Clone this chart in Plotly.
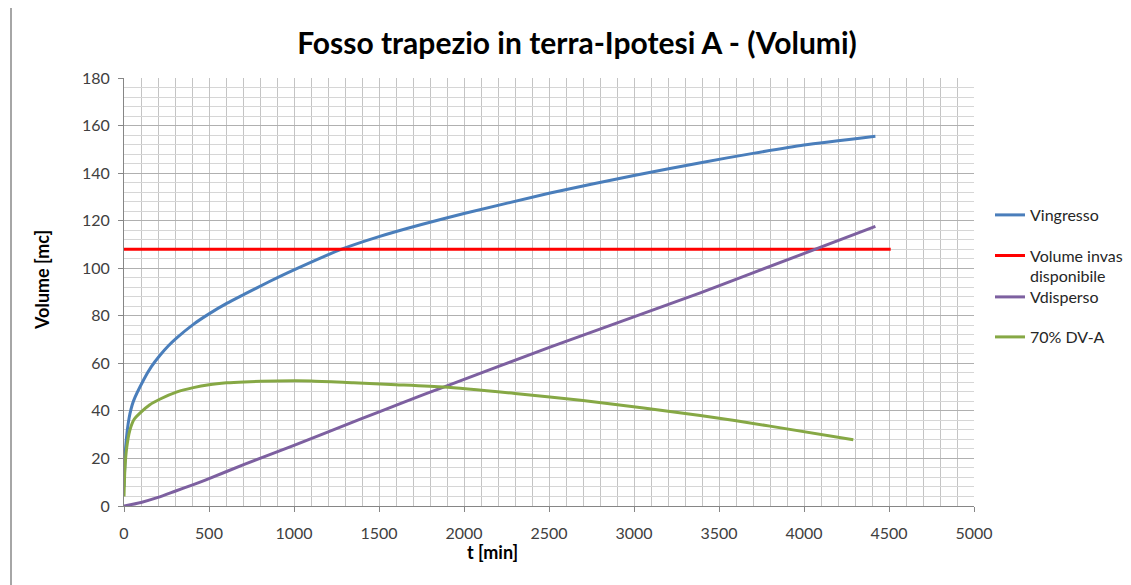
import plotly.graph_objects as go

# ---- data ----
t_ingresso = [0, 10, 30, 55, 115, 160, 213, 260, 312, 408, 500, 604, 706, 850, 1000, 1280, 1500, 1750, 2000, 2500, 3000, 3400, 3700, 4000, 4420]
v_ingresso = [8, 25, 37, 44, 53, 58.5, 63.5, 67.3, 70.8, 76.4, 80.8, 85.2, 89.0, 94.2, 99.3, 108, 113.3, 118.4, 123, 131.5, 139, 144.5, 148.3, 151.8, 155.5]

t_invaso = [0, 4510]
v_invaso = [108, 108]

t_disperso = [0, 100, 200, 300, 400, 500, 700, 1000, 1390, 1640, 1880, 2510, 3390, 3680, 4420]
v_disperso = [0, 1.5, 3.6, 6.2, 8.8, 11.5, 17.3, 25.5, 36.5, 43.5, 50, 66.9, 89.6, 97.5, 117.6]

t_dva = [0, 5, 15, 35, 60, 100, 150, 213, 312, 408, 500, 604, 706, 900, 1100, 1350, 1600, 1880, 2300, 2700, 3390, 3800, 4290]
v_dva = [4, 15, 24, 32, 36.5, 39.5, 42.5, 45, 48, 49.8, 51, 51.8, 52.2, 52.6, 52.6, 51.8, 51, 50, 47.3, 44.4, 38.1, 33.6, 27.9]

names = ["Vingresso", "Volume invaso<br>disponibile", "Vdisperso", "70% DV-A"]
colors = ["#4a7ebb", "#ff0000", "#7d60a0", "#86a845"]
legend_centers = [215, 266, 297, 337]

FONT = "Lato"
OFF = 8  # page body margin

W, H = 1131 - OFF, 585 - OFF
L, R, T, B = 124 - OFF, 974 - OFF, 78 - OFF, 506 - OFF


def px(x):
    return (x - OFF - L) / (R - L)


def py(y):
    return (B - (y - OFF)) / (B - T)


fig = go.Figure()
series = [(t_ingresso, v_ingresso), (t_invaso, v_invaso), (t_disperso, v_disperso), (t_dva, v_dva)]
legend_ids = ["legend", "legend2", "legend3", "legend4"]
for (tx, vy), nm, c, lid in zip(series, names, colors, legend_ids):
    fig.add_trace(go.Scatter(x=tx, y=vy, mode="lines", name=nm, legend=lid,
                             line=dict(color=c, width=3, shape="spline", smoothing=0.6)))

layout_legends = {}
for lid, yc in zip(legend_ids, legend_centers):
    layout_legends[lid] = dict(x=px(990), xanchor="left", y=py(yc), yanchor="middle",
                               font=dict(family=FONT, size=16, color="#262626"),
                               valign="top", bgcolor="rgba(0,0,0,0)", borderwidth=0)

fig.update_layout(
    width=W, height=H,
    margin=dict(l=L, r=W - R, t=T, b=H - B, autoexpand=False),
    paper_bgcolor="white", plot_bgcolor="white",
    font=dict(family=FONT, color="#404040", size=16),
    title=dict(text="<b>Fosso trapezio in terra-Ipotesi A - (Volumi)</b>",
               x=(577 - OFF) / W, xanchor="center", y=1 - (43 - OFF) / H, yanchor="middle",
               font=dict(family=FONT, size=30, color="#000000")),
    showlegend=True,
    xaxis=dict(range=[0, 5000], dtick=500, tick0=0, automargin=False,
               showgrid=True, gridcolor="#c4c4c4", gridwidth=1,
               minor=dict(dtick=100, showgrid=True, gridcolor="#c4c4c4", gridwidth=1, ticks=""),
               showline=True, linecolor="#868686", linewidth=1,
               ticks="outside", ticklen=5, tickcolor="#868686", ticklabelstandoff=8,
               zeroline=False, tickfont=dict(family=FONT, size=16, color="#404040")),
    yaxis=dict(range=[0, 180], dtick=20, tick0=0, automargin=False,
               showgrid=True, gridcolor="#b0b0b0", gridwidth=1,
               minor=dict(dtick=4, showgrid=True, gridcolor="#d6d6d6", gridwidth=1, ticks=""),
               showline=True, linecolor="#868686", linewidth=1,
               ticks="outside", ticklen=5, tickcolor="#868686", ticklabelstandoff=5,
               zeroline=False, tickfont=dict(family=FONT, size=16, color="#404040")),
    **layout_legends,
)

# axis titles
fig.add_annotation(text="<b>t [min]</b>", xref="paper", yref="paper",
                   x=px(492), y=py(552), xanchor="center", yanchor="middle",
                   showarrow=False, font=dict(family=FONT, size=18, color="#000000"))
fig.add_annotation(text="<b>Volume [mc]</b>", xref="paper", yref="paper",
                   x=px(42), y=py(280), xanchor="center", yanchor="middle", textangle=-90,
                   showarrow=False, font=dict(family=FONT, size=18, color="#000000"))

# chart area border
fig.add_shape(type="rect", xref="paper", yref="paper",
              x0=px(11), x1=px(1150), y0=py(600), y1=py(7),
              line=dict(color="#a6a6a6", width=2), fillcolor="rgba(0,0,0,0)", layer="below")

fig.write_html("out.html")
